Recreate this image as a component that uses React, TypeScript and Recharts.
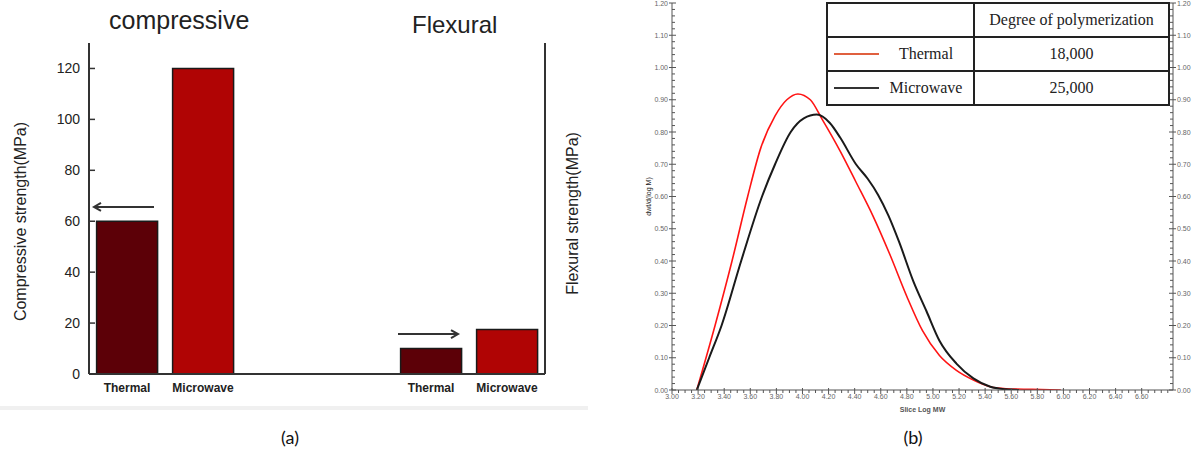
import React from 'react';
import {
  BarChart, Bar, Cell, XAxis, YAxis, ReferenceLine, Label,
  LineChart, Line, Legend,
} from 'recharts';

// ---- (a) strength bars ----
const barCategories = ['Thermal', 'Microwave', '', '', 'Thermal', 'Microwave'];
const barGroups = ['compressive', 'compressive', 'blank', 'blank', 'flexural', 'flexural'];
const strengthMPa = [60, 120, null, null, 10, 17.5];
const strengthTicks = [0, 20, 40, 60, 80, 100, 120];
const groupTitles = ['compressive', 'Flexural'];
// arrows pointing at the axis each group is read from
const arrowAnchors = [
  { id: 'compressive-0', y: 65.6, dir: 'left' },
  { id: 'flexural-4', y: 15.7, dir: 'right' },
];

// ---- (b) molecular weight distribution ----
const thermalLogMW = [3.19, 3.33, 3.46, 3.58, 3.68, 3.79, 3.88, 3.965, 4.06, 4.15, 4.29, 4.41, 4.54, 4.67, 4.8, 4.92, 5.05, 5.18, 5.31, 5.44, 5.56, 5.76, 5.98];
const thermalDw = [0, 0.2, 0.4, 0.6, 0.75, 0.85, 0.9, 0.918, 0.9, 0.84, 0.74, 0.645, 0.54, 0.42, 0.29, 0.184, 0.107, 0.061, 0.031, 0.01, 0.004, 0.002, 0];
const microwaveLogMW = [3.19, 3.285, 3.38, 3.53, 3.69, 3.79, 3.91, 4.01, 4.11, 4.21, 4.29, 4.41, 4.5, 4.58, 4.66, 4.74, 4.85, 4.95, 5.05, 5.18, 5.31, 5.44, 5.56, 5.66];
const microwaveDw = [0, 0.1, 0.2, 0.4, 0.6, 0.7, 0.8, 0.842, 0.854, 0.828, 0.782, 0.7, 0.655, 0.605, 0.54, 0.46, 0.337, 0.245, 0.153, 0.082, 0.036, 0.01, 0.002, 0];
const mwMajorTicks = [3.0, 3.2, 3.4, 3.6, 3.8, 4.0, 4.2, 4.4, 4.6, 4.8, 5.0, 5.2, 5.4, 5.6, 5.8, 6.0, 6.2, 6.4, 6.6];
const dwMajorTicks = [0, 0.1, 0.2, 0.3, 0.4, 0.5, 0.6, 0.7, 0.8, 0.9, 1.0, 1.1, 1.2];
const seriesNames = ['Thermal', 'Microwave'];
const polymerization = ['18,000', '25,000'];

const THERMAL_BAR = '#5c0007';
const MICROWAVE_BAR = '#b00404';
const lineColors = ['#ff1414', '#1a1a1a'];
const legendColors = ['#e0603f', '#333'];

const strengthData = barCategories.map((label, i) => ({
  id: `${barGroups[i]}-${i}`,
  label,
  value: strengthMPa[i],
}));
const thermalSeries = thermalLogMW.map((x, i) => ({ logMW: x, dw: thermalDw[i] }));
const microwaveSeries = microwaveLogMW.map((x, i) => ({ logMW: x, dw: microwaveDw[i] }));

// minor tick positions (structure only, not data)
const stepTicks = (from: number, to: number, step: number) =>
  Array.from({ length: Math.round((to - from) / step) + 1 }, (_, i) => +(from + i * step).toFixed(4));
const mwTicks = stepTicks(3, 6.8, 0.05);
const dwTicks = stepTicks(0, 1.2, 0.02);
const isIn = (arr: number[], v: number) => arr.some((t) => Math.abs(t - v) < 1e-6);

const SANS = '"Liberation Sans", Arial, sans-serif';
const FRAME = '#333';

// ---------- (a) ----------
const StrengthTick = ({ x, y, payload }: any) => {
  const ax = x + 9; // tickMargin 9, tickSize 0
  return (
    <g>
      <line x1={ax} x2={ax + 6} y1={y} y2={y} stroke={FRAME} strokeWidth={1.5} />
      <text x={x} y={y} dy={5} textAnchor="end" fontSize={14} fontFamily={SANS} fill="#222">
        {payload.value}
      </text>
    </g>
  );
};

const InwardRightTick = ({ x, y }: any) => (
  <line x1={x - 6} x2={x} y1={y} y2={y} stroke={FRAME} strokeWidth={1.5} />
);

const CategoryTick = ({ x, y, payload }: any) => {
  const row = strengthData.find((d) => d.id === payload.value);
  return (
    <text x={x} y={y + 18} textAnchor="middle" fontSize={12} fontWeight="bold" fontFamily={SANS} fill="#222">
      {row ? row.label : ''}
    </text>
  );
};

const Arrow = ({ x1, y1, dir }: any) => {
  const a = x1 - 33;
  const b = x1 + 27;
  const tip = dir === 'left' ? a : b;
  const s = dir === 'left' ? 1 : -1;
  return (
    <g stroke="#333" strokeWidth={2} fill="none">
      <line x1={a} x2={b} y1={y1} y2={y1} />
      <polyline points={`${tip + s * 7},${y1 - 4} ${tip},${y1} ${tip + s * 7},${y1 + 4}`} />
    </g>
  );
};

const verticalTitle = (text: string, dx: number, dy: number, size: number, weight = 'normal') =>
  (props: any) => {
    const vb = props.viewBox || {};
    const cx = vb.x + dx;
    const cy = vb.y + vb.height / 2 + dy;
    return (
      <text x={cx} y={cy} transform={`rotate(-90 ${cx} ${cy})`} textAnchor="middle"
        dominantBaseline="central" fontSize={size} fontWeight={weight} fontFamily={SANS} fill="#222">
        {text}
      </text>
    );
  };

function StrengthChart() {
  return (
    <BarChart width={600} height={400} data={strengthData}
      margin={{ top: 43, right: 0, bottom: 0, left: 0 }} barCategoryGap="10%">
      <XAxis dataKey="id" height={26} tickLine={false} tickSize={0} tickMargin={0}
        interval={0} tick={<CategoryTick />} axisLine={{ stroke: FRAME, strokeWidth: 2 }} />
      <XAxis xAxisId="top" dataKey="id" orientation="top" height={0} tick={false}
        tickLine={false} axisLine={{ stroke: FRAME, strokeWidth: 2 }} />
      <YAxis yAxisId="left" width={89} domain={[0, 130]} ticks={strengthTicks} interval={0}
        tickLine={false} tickSize={0} tickMargin={9} tick={<StrengthTick />}
        axisLine={{ stroke: FRAME, strokeWidth: 2 }}>
        <Label content={verticalTitle('Compressive strength(MPa)', 20, 13, 16)} />
      </YAxis>
      <YAxis yAxisId="right" orientation="right" width={55} domain={[0, 130]} ticks={strengthTicks}
        interval={0} tickLine={false} tickSize={0} tickMargin={0} tick={<InwardRightTick />}
        axisLine={{ stroke: FRAME, strokeWidth: 2 }}>
        <Label content={verticalTitle('Flexural strength(MPa)', 27, 5, 16)} />
      </YAxis>
      <Bar yAxisId="left" dataKey="value" stroke="#1a1a1a" strokeWidth={1.5} isAnimationActive={false}>
        {strengthData.map((d) => (
          <Cell key={d.id} fill={d.label === 'Thermal' ? THERMAL_BAR : MICROWAVE_BAR} />
        ))}
      </Bar>
      {arrowAnchors.map((a) => (
        <ReferenceLine key={a.id} yAxisId="left" segment={[{ x: a.id, y: a.y }, { x: a.id, y: a.y }]}
          shape={(p: any) => <Arrow {...p} dir={a.dir} />} />
      ))}
    </BarChart>
  );
}

// ---------- (b) ----------
const AX = '#555';
const MwTick = ({ x, y, payload }: any) => {
  const major = isIn(mwMajorTicks, payload.value);
  return (
    <g>
      <line x1={x} x2={x} y1={y - (major ? 2 : 0)} y2={y + (major ? 4 : 3)} stroke={AX} strokeWidth={1} />
      {major && (
        <text x={x} y={y + 9} textAnchor="middle" fontSize={7} fontFamily={SANS} fill="#666">
          {payload.value.toFixed(2)}
        </text>
      )}
    </g>
  );
};

const DwLeftTick = ({ x, y, payload }: any) => {
  const major = isIn(dwMajorTicks, payload.value);
  return (
    <g>
      <line x1={major ? x - 3 : x} x2={x + (major ? 4 : 3)} y1={y} y2={y} stroke={AX} strokeWidth={1} />
      {major && (
        <text x={x - 4} y={y} dy={2.5} textAnchor="end" fontSize={7} fontFamily={SANS} fill="#666">
          {payload.value.toFixed(2)}
        </text>
      )}
    </g>
  );
};

const DwRightTick = ({ x, y, payload }: any) => {
  const major = isIn(dwMajorTicks, payload.value);
  return (
    <g>
      <line x1={x - (major ? 4 : 3)} x2={major ? x + 3 : x} y1={y} y2={y} stroke={AX} strokeWidth={1} />
      {major && (
        <text x={x + 4} y={y} dy={2.5} textAnchor="start" fontSize={7} fontFamily={SANS} fill="#666">
          {payload.value.toFixed(2)}
        </text>
      )}
    </g>
  );
};

const mwTitle = (props: any) => {
  const vb = props.viewBox || {};
  return (
    <text x={vb.x + vb.width / 2} y={vb.y + 21.5} textAnchor="middle" fontSize={7}
      fontWeight="bold" fontFamily={SANS} fill="#555">
      Slice Log MW
    </text>
  );
};

const cellBase: React.CSSProperties = { border: '2px solid #222', padding: 0 };

const PolymerizationTable = () => (
  <table style={{
    borderCollapse: 'collapse', width: 344, height: 102, background: '#fff',
    fontFamily: '"Liberation Serif", "Times New Roman", serif', fontSize: 16, color: '#222',
  }}>
    <tbody>
      <tr style={{ height: 34 }}>
        <td style={{ ...cellBase, width: 145 }} />
        <td style={{ ...cellBase, textAlign: 'center' }}>Degree of polymerization</td>
      </tr>
      {seriesNames.map((name, i) => (
        <tr key={name} style={{ height: 34 }}>
          <td style={cellBase}>
            <div style={{ display: 'flex', alignItems: 'center' }}>
              <span style={{ width: 45, borderTop: `2px solid ${legendColors[i]}`, marginLeft: 6 }} />
              <span style={{ flex: 1, textAlign: 'center' }}>{name}</span>
            </div>
          </td>
          <td style={{ ...cellBase, textAlign: 'center' }}>{polymerization[i]}</td>
        </tr>
      ))}
    </tbody>
  </table>
);

function DistributionChart() {
  return (
    <LineChart width={600} height={440} margin={{ top: 20, right: 7, bottom: 8, left: 12 }}>
      <XAxis type="number" dataKey="logMW" domain={[3, 6.84]} allowDataOverflow ticks={mwTicks}
        interval={0} height={25} tickLine={false} tickSize={0} tickMargin={0} tick={<MwTick />}
        axisLine={{ stroke: AX }}>
        <Label content={mwTitle} />
      </XAxis>
      <YAxis yAxisId="left" width={40} domain={[0, 1.2]} allowDataOverflow ticks={dwTicks}
        interval={0} tickLine={false} tickSize={0} tickMargin={0} tick={<DwLeftTick />}
        axisLine={{ stroke: AX }}>
        <Label content={verticalTitle('dwt/d(log M)', 16, 0, 7)} />
      </YAxis>
      <YAxis yAxisId="right" orientation="right" width={40} domain={[0, 1.2]} allowDataOverflow
        ticks={dwTicks} interval={0} tickLine={false} tickSize={0} tickMargin={0}
        tick={<DwRightTick />} axisLine={{ stroke: AX }} />
      <Legend layout="vertical" align="center" verticalAlign="middle"
        wrapperStyle={{ left: 206, top: 19, width: 344 }} content={() => <PolymerizationTable />} />
      <Line yAxisId="left" name={seriesNames[0]} data={thermalSeries} dataKey="dw" type="monotone"
        dot={false} stroke={lineColors[0]} strokeWidth={1.6} isAnimationActive={false} />
      <Line yAxisId="left" name={seriesNames[1]} data={microwaveSeries} dataKey="dw" type="monotone"
        dot={false} stroke={lineColors[1]} strokeWidth={2} isAnimationActive={false} />
    </LineChart>
  );
}

const captionStyle: React.CSSProperties = {
  position: 'absolute', top: 426, width: 100, textAlign: 'center', fontSize: 18,
  lineHeight: '22px', fontFamily: 'Lato, "Open Sans", sans-serif', color: '#111',
};

export default function App() {
  return (
    <div style={{
      position: 'absolute', left: 0, top: 0, width: 1194, height: 475,
      overflow: 'hidden', background: '#fff', fontFamily: SANS,
    }}>
      <div style={{ position: 'absolute', left: 0, top: 0 }}>
        <StrengthChart />
      </div>
      <div style={{ position: 'absolute', left: 109, top: 8, fontSize: 25, lineHeight: '24px', color: '#222' }}>
        {groupTitles[0]}
      </div>
      <div style={{ position: 'absolute', left: 412, top: 13, fontSize: 24, lineHeight: '24px', color: '#222' }}>
        {groupTitles[1]}
      </div>
      <div style={{ position: 'absolute', left: 620, top: -17 }}>
        <DistributionChart />
      </div>
      <div style={{ position: 'absolute', left: 0, top: 406, width: 588, height: 4, background: '#f0f0f0' }} />
      <div style={{ ...captionStyle, left: 240 }}>(a)</div>
      <div style={{ ...captionStyle, left: 863 }}>(b)</div>
    </div>
  );
}
